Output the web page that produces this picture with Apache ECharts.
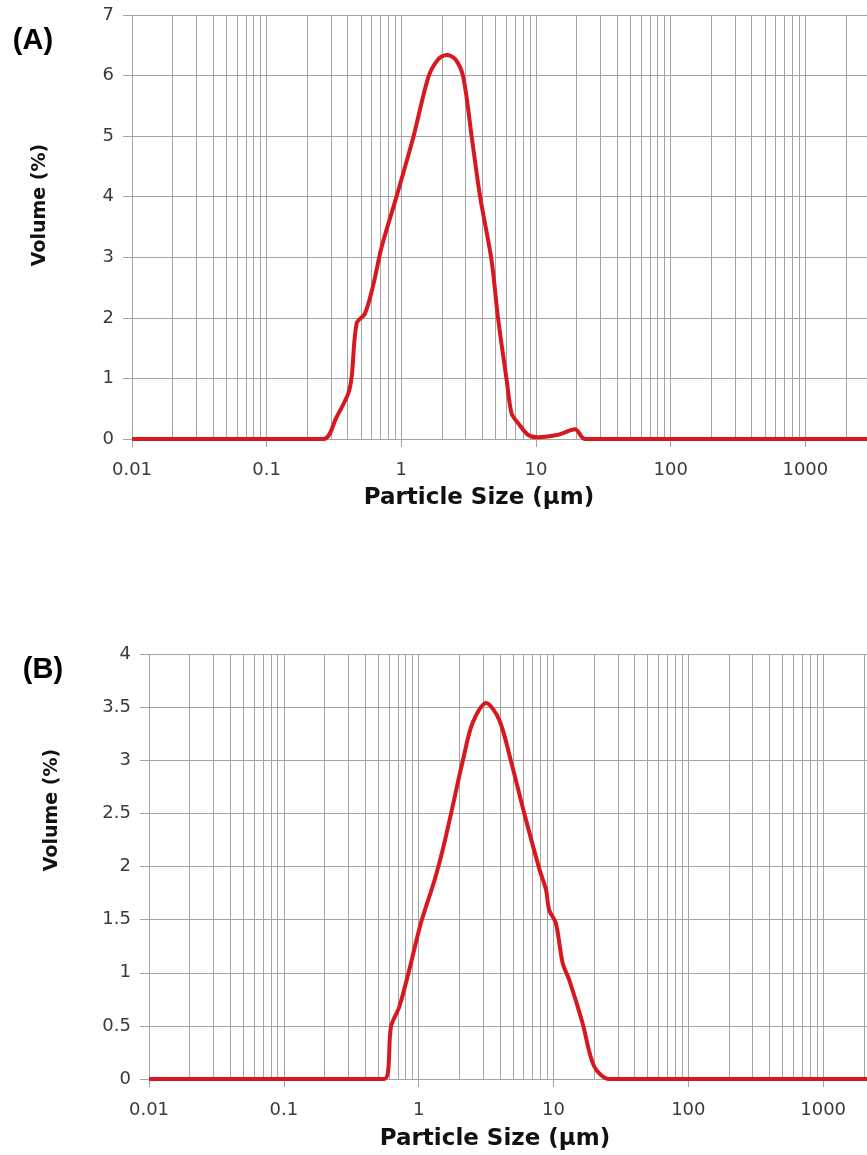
<!DOCTYPE html>
<html>
<head>
<meta charset="utf-8">
<script src="https://cdn.jsdelivr.net/npm/echarts@6/dist/echarts.min.js"></script>
<style>
html,body{margin:0;padding:0;background:#fff;}
#c{width:867px;height:1155px;}
</style>
</head>
<body>
<div id="c"></div>
<script>
// Panel (A) data
const sizeA = [0.01, 0.264, 0.33, 0.404, 0.428, 0.466, 0.537, 0.62, 0.714, 0.923, 1.23, 1.59, 1.88, 2.17, 2.52, 2.88, 3.33, 3.84, 4.67, 5.25, 6.06, 6.59, 7.38, 8.76, 10.4, 14.6, 19.5, 23.1, 10000];
const volA  = [0, 0, 0.36, 0.754, 1.03, 1.91, 2.07, 2.55, 3.17, 4.01, 4.99, 5.98, 6.27, 6.34, 6.27, 5.98, 4.99, 4.01, 2.96, 1.96, 0.97, 0.42, 0.26, 0.066, 0.03, 0.07, 0.16, 0.0, 0];
// Panel (B) data
const sizeB = [0.01, 0.557, 0.624, 0.719, 0.853, 1.04, 1.31, 1.51, 1.74, 2.12, 2.51, 3.16, 3.96, 4.84, 6.07, 7.84, 8.8, 9.29, 10.4, 11.7, 13.1, 16.4, 20.0, 25.9, 10000];
const volB  = [0, 0, 0.495, 0.68, 1.03, 1.47, 1.87, 2.16, 2.5, 2.99, 3.35, 3.54, 3.38, 2.99, 2.5, 1.98, 1.78, 1.59, 1.47, 1.09, 0.93, 0.53, 0.12, 0, 0];
// Axis settings
const xMin = 0.01, xMax = 10000;
const yMaxA = 7, yStepA = 1;
const yMaxB = 4, yStepB = 0.5;
const minorTicks = [];
[0.01, 0.1, 1, 10, 100, 1000].forEach(d => { for (let k = 2; k <= 9; k++) minorTicks.push(+(d * k).toPrecision(3)); });
const panelLabels = ['(A)', '(B)'];
const xName = 'Particle Size (µm)';
const yName = 'Volume (%)';

const gridColor = '#a3a3a3';
const lineColor = '#d7181f';
const tickFont = { fontFamily: 'DejaVu Sans', fontSize: 18, color: '#3a3a3a' };

function xAxisCfg(gi) {
  return {
    type: 'log', gridIndex: gi, min: xMin, max: xMax, logBase: 10,
    axisLine: { show: true, lineStyle: { color: gridColor, width: 1 } },
    axisTick: { show: true, length: 8, lineStyle: { color: gridColor } },
    axisLabel: Object.assign({ margin: 22, formatter: v => String(+(+v).toPrecision(6)) }, tickFont),
    splitLine: { show: true, lineStyle: { color: gridColor, width: 1 } }
  };
}
function yAxisCfg(gi, max, step) {
  return {
    type: 'value', gridIndex: gi, min: 0, max: max, interval: step,
    axisLine: { show: false },
    axisTick: { show: true, length: 9, lineStyle: { color: gridColor } },
    axisLabel: Object.assign({ margin: 18 }, tickFont),
    splitLine: { show: true, lineStyle: { color: gridColor, width: 1 } }
  };
}
function gridSeries(gi) {
  return {
    type: 'line', xAxisIndex: gi, yAxisIndex: gi, data: [], z: 1, silent: true,
    markLine: {
      silent: true, symbol: 'none', animation: false,
      label: { show: false },
      lineStyle: { color: gridColor, width: 1, type: 'solid' },
      emphasis: { disabled: true },
      data: minorTicks.map(v => ({ xAxis: v }))
    }
  };
}
function curve(gi, xs, ys) {
  return {
    type: 'line', xAxisIndex: gi, yAxisIndex: gi, z: 5,
    data: xs.map((x, i) => [x, ys[i]]),
    showSymbol: false, smooth: 0.3, clip: true,
    lineStyle: { color: lineColor, width: 4 },
    animation: false
  };
}

const chart = echarts.init(document.getElementById('c'), null, { renderer: 'canvas' });
chart.setOption({
  backgroundColor: '#fff',
  animation: false,
  grid: [
    { left: 132, top: 15, width: 808, height: 424, outerBoundsMode: 'none', containLabel: false },
    { left: 149, top: 654, width: 809, height: 425, outerBoundsMode: 'none', containLabel: false }
  ],
  xAxis: [xAxisCfg(0), xAxisCfg(1)],
  yAxis: [yAxisCfg(0, yMaxA, yStepA), yAxisCfg(1, yMaxB, yStepB)],
  series: [gridSeries(0), gridSeries(1), curve(0, sizeA, volA), curve(1, sizeB, volB)],
  graphic: [
    { type: 'text', x: 33, y: 41, style: { text: panelLabels[0], font: 'bold 29px "Liberation Sans", Arial', fill: '#000', align: 'center', verticalAlign: 'middle' } },
    { type: 'text', x: 43, y: 670, style: { text: panelLabels[1], font: 'bold 29px "Liberation Sans", Arial', fill: '#000', align: 'center', verticalAlign: 'middle' } },
    { type: 'text', x: 479, y: 498, style: { text: xName, font: 'bold 23px "DejaVu Sans"', fill: '#111', align: 'center', verticalAlign: 'middle' } },
    { type: 'text', x: 495, y: 1139, style: { text: xName, font: 'bold 23px "DejaVu Sans"', fill: '#111', align: 'center', verticalAlign: 'middle' } },
    { type: 'text', x: 40, y: 205, rotation: Math.PI / 2, style: { text: yName, font: 'bold 19px "DejaVu Sans"', fill: '#111', align: 'center', verticalAlign: 'middle' } },
    { type: 'text', x: 52, y: 810, rotation: Math.PI / 2, style: { text: yName, font: 'bold 19px "DejaVu Sans"', fill: '#111', align: 'center', verticalAlign: 'middle' } }
  ]
});
</script>
</body>
</html>
